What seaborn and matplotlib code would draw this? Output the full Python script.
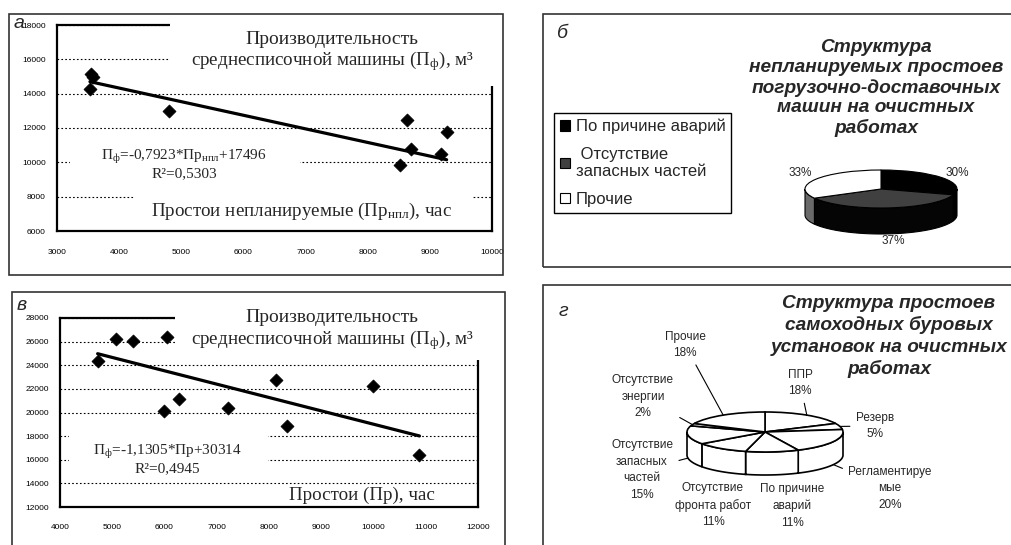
import numpy as np
import matplotlib
matplotlib.use('Agg')
import matplotlib.pyplot as plt
import seaborn as sns
from matplotlib.patches import Rectangle

# ---- data ----
a_x = [3540, 3575, 3530, 4800, 8640, 9270, 8690, 9175, 8520]
a_y = [15150, 14950, 14270, 13000, 12470, 11790, 10780, 10490, 9850]
a_slope, a_icpt, a_r2 = -0.7923, 17496, 0.5303

v_x = [4720, 5070, 5400, 6040, 6000, 6280, 7220, 8140, 8350, 10000, 10880]
v_y = [24330, 26220, 26020, 26390, 20090, 21170, 20380, 22780, 18880, 22270, 16430]
v_slope, v_icpt, v_r2 = -1.1305, 30314, 0.4945

b_labels = ['По причине аварий', ' Отсутствие\nзапасных частей', 'Прочие']
b_values = [30, 37, 33]

g_labels = ['ППР', 'Резерв', 'Регламентируе\nмые', 'По причине\nаварий',
            'Отсутствие\nфронта работ', 'Отсутствие\nзапасных\nчастей',
            'Отсутствие\nэнергии', 'Прочие']
g_values = [18, 5, 20, 11, 11, 15, 2, 18]

b_title = ['Структура', 'непланируемых простоев', 'погрузочно-доставочных',
           'машин на очистных', 'работах']
g_title = ['Структура простоев', 'самоходных буровых', 'установок на очистных',
           'работах']

W, H = 1011, 545

sns.set_style('white')
plt.rcParams['font.family'] = ['Liberation Sans', 'DejaVu Sans']
plt.rcParams['mathtext.fontset'] = 'custom'
plt.rcParams['mathtext.rm'] = 'Liberation Serif'
plt.rcParams['mathtext.it'] = 'Liberation Serif:italic'

fig = plt.figure(figsize=(W / 100, H / 100), dpi=100)
SERIF = 'Liberation Serif'


def px_box(x0, y0, x1, y1):
    return [x0 / W, 1 - y1 / H, (x1 - x0) / W, (y1 - y0) / H]


def cover(ax, x0, y0, x1, y1):
    b = px_box(x0, y0, x1, y1)
    ax.add_patch(Rectangle((b[0], b[1]), b[2], b[3], transform=fig.transFigure,
                           facecolor='white', edgecolor='none', clip_on=False, zorder=3))


def ftext(ax, x, y, s, **kw):
    ax.text(x / W, 1 - y / H, s, transform=fig.transFigure, ha='center', va='center',
            zorder=4, **kw)


def num(v, d):
    return f'{v:.{d}f}'.replace('.', ',')


def scatter_panel(box, xs, ys, slope, icpt, xlim, ylim, xpad):
    ax = fig.add_axes(px_box(*box))
    sns.scatterplot(x=xs, y=ys, ax=ax, marker='D', color='black', s=44,
                    edgecolor='black', zorder=5)
    line_x = np.array([min(xs), max(xs)])
    sns.lineplot(x=line_x, y=slope * line_x + icpt, ax=ax, color='black', lw=2.3, zorder=5)
    ax.set_xlim(*xlim)
    ax.set_ylim(*ylim)
    ax.set_xticks(np.arange(xlim[0], xlim[1] + 1, 1000))
    ax.set_yticks(np.arange(ylim[0], ylim[1] + 1, 2000))
    ax.yaxis.grid(True, color='black', linestyle=(0, (1.5, 2)), lw=0.8)
    ax.set_axisbelow(True)
    for s in ax.spines.values():
        s.set_visible(True)
        s.set_color('black')
        s.set_linewidth(1.6)
    ax.tick_params(axis='both', direction='out', length=3, width=1, labelsize=6,
                   colors='black')
    ax.tick_params(axis='x', pad=xpad)
    ax.tick_params(axis='y', pad=5)
    ax.set_xlabel('')
    ax.set_ylabel('')
    return ax


def title_block(ax, y1, y2):
    ftext(ax, 332, y1, 'Производительность', family=SERIF, fontsize=14)
    ftext(ax, 332, y2, 'среднесписочной машины (П$_\\mathrm{ф}$), м³',
          family=SERIF, fontsize=13.7)


# ---- panel a ----
ax_a = scatter_panel((57, 25, 492, 231), a_x, a_y, a_slope, a_icpt,
                     (3000, 10000), (6000, 18000), 10)
cover(ax_a, 170, 17, 500, 86)
cover(ax_a, 70, 144, 300, 183)
cover(ax_a, 135, 190, 472, 228)
title_block(ax_a, 39, 61)
ftext(ax_a, 184, 164,
      f'П$_\\mathrm{{ф}}$={num(a_slope, 4)}*Пр$_\\mathrm{{нпл}}$+{a_icpt}\nR²={num(a_r2, 4)}',
      family=SERIF, fontsize=11, linespacing=1.1)
ftext(ax_a, 302, 211, 'Простои непланируемые (Пр$_\\mathrm{нпл}$), час',
      family=SERIF, fontsize=13.7)

# ---- panel в ----
ax_v = scatter_panel((60, 318, 478, 507), v_x, v_y, v_slope, v_icpt,
                     (4000, 12000), (12000, 28000), 9)
cover(ax_v, 175, 306, 486, 360)
cover(ax_v, 69, 431, 268, 478)
title_block(ax_v, 318, 340)
ftext(ax_v, 167, 459,
      f'П$_\\mathrm{{ф}}$={num(v_slope, 4)}*Пр+{v_icpt}\nR²={num(v_r2, 4)}',
      family=SERIF, fontsize=11, linespacing=1.1)
ftext(ax_v, 362, 495, 'Простои (Пр), час', family=SERIF, fontsize=13.7,
      bbox=dict(facecolor='white', edgecolor='none', pad=1))


# ---- 3d-looking pies ----
def pie3d(cx, cy, rx, ry, depth, values, colors, side_colors, lw):
    d = depth / ry
    ax = fig.add_axes(px_box(cx - 1.08 * rx, cy - 1.1 * ry, cx + 1.08 * rx,
                             cy + (1 + d + 0.1) * ry))
    wedges, _ = ax.pie(values, colors=colors, startangle=90, counterclock=False,
                       wedgeprops=dict(edgecolor='black', linewidth=lw))
    bounds = 90 - 360 * np.cumsum([0] + list(values)) / np.sum(values)
    for i in range(len(values)):
        lo, hi = max(bounds[i + 1], -180), min(bounds[i], 0)
        if lo >= hi:
            continue
        t = np.radians(np.linspace(lo, hi, 80))
        px = np.concatenate([np.cos(t), np.cos(t[::-1])])
        py = np.concatenate([np.sin(t), np.sin(t[::-1]) - d])
        ax.fill(px, py, facecolor=side_colors[i], edgecolor='black', lw=lw, zorder=0.5)
    ax.set_aspect('auto')
    ax.set_xlim(-1.08, 1.08)
    ax.set_ylim(-1 - d - 0.1, 1.1)
    ax.axis('off')
    return ax, wedges, bounds, d


def pie_title(lines, cx, y0, step):
    for k, line in enumerate(lines):
        fig.text(cx / W, 1 - (y0 + k * step) / H, line, ha='center', va='center',
                 fontsize=13.8, fontweight='bold', fontstyle='italic')


# panel б
ax_b, b_wedges, _, _ = pie3d(881, 189, 76, 19, 26, b_values,
                             ['black', '#404040', 'white'],
                             ['black', '#050505', '#6a6a6a'], 0.8)
pie_title(b_title, 876, 48, 20)
for (x, y), v in zip([(957, 173), (893, 241), (800, 173)], b_values):
    fig.text(x / W, 1 - y / H, f'{v}%', ha='center', va='center', fontsize=8.5)
leg = ax_b.legend(b_wedges, b_labels, loc='upper left',
                  bbox_to_anchor=(554 / W, 1 - 113 / H), bbox_transform=fig.transFigure,
                  frameon=True, fancybox=False, edgecolor='black', framealpha=1,
                  fontsize=12, handlelength=0.6, handleheight=0.6, labelspacing=0.75,
                  borderpad=0.35, handletextpad=0.35, borderaxespad=0)
leg.get_frame().set_linewidth(1)

# panel г
ax_g, g_wedges, g_bounds, g_d = pie3d(765, 432, 78, 20, 23, g_values,
                                      ['white'] * len(g_values),
                                      ['white'] * len(g_values), 1.2)
pie_title(g_title, 889, 303, 22)
g_pos = [(800, 383), (875, 426), (890, 488), (792, 506), (713, 505),
         (642, 470), (643, 397), (685, 345)]
g_leader = [True, True, True, False, False, True, True, True]
for i, (lab, v) in enumerate(zip(g_labels, g_values)):
    mid = np.radians((g_bounds[i] + g_bounds[i + 1]) / 2)
    tx, ty = g_pos[i]
    rim = (np.cos(mid), np.sin(mid) - (g_d if np.sin(mid) < -0.1 else 0))
    ax_g.annotate(f'{lab}\n{v}%', xy=rim, xycoords='data',
                  xytext=(tx / W, 1 - ty / H), textcoords='figure fraction',
                  ha='center', va='center', fontsize=8.5, linespacing=1.5,
                  arrowprops=dict(arrowstyle='-', color='black', lw=0.8,
                                  shrinkA=2, shrinkB=0) if g_leader[i] else None,
                  annotation_clip=False)

# panel letters
for x, y, s in [(19, 24, 'а'), (22, 305, 'в'), (563, 33, 'б'), (563, 312, 'г')]:
    fig.text(x / W, 1 - y / H, s, ha='center', va='center', fontsize=14,
             fontstyle='italic')

# outer frames of the four panels
for x0, y0, x1, y1 in [(9, 14, 503, 275), (543, 14, 1020, 267),
                       (12, 292, 505, 560), (543, 285, 1020, 560)]:
    b = px_box(x0, y0, x1, y1)
    fig.add_artist(Rectangle((b[0], b[1]), b[2], b[3], transform=fig.transFigure,
                             fill=False, edgecolor='#333333', lw=1.2))

fig.savefig('out.png', dpi=100)
